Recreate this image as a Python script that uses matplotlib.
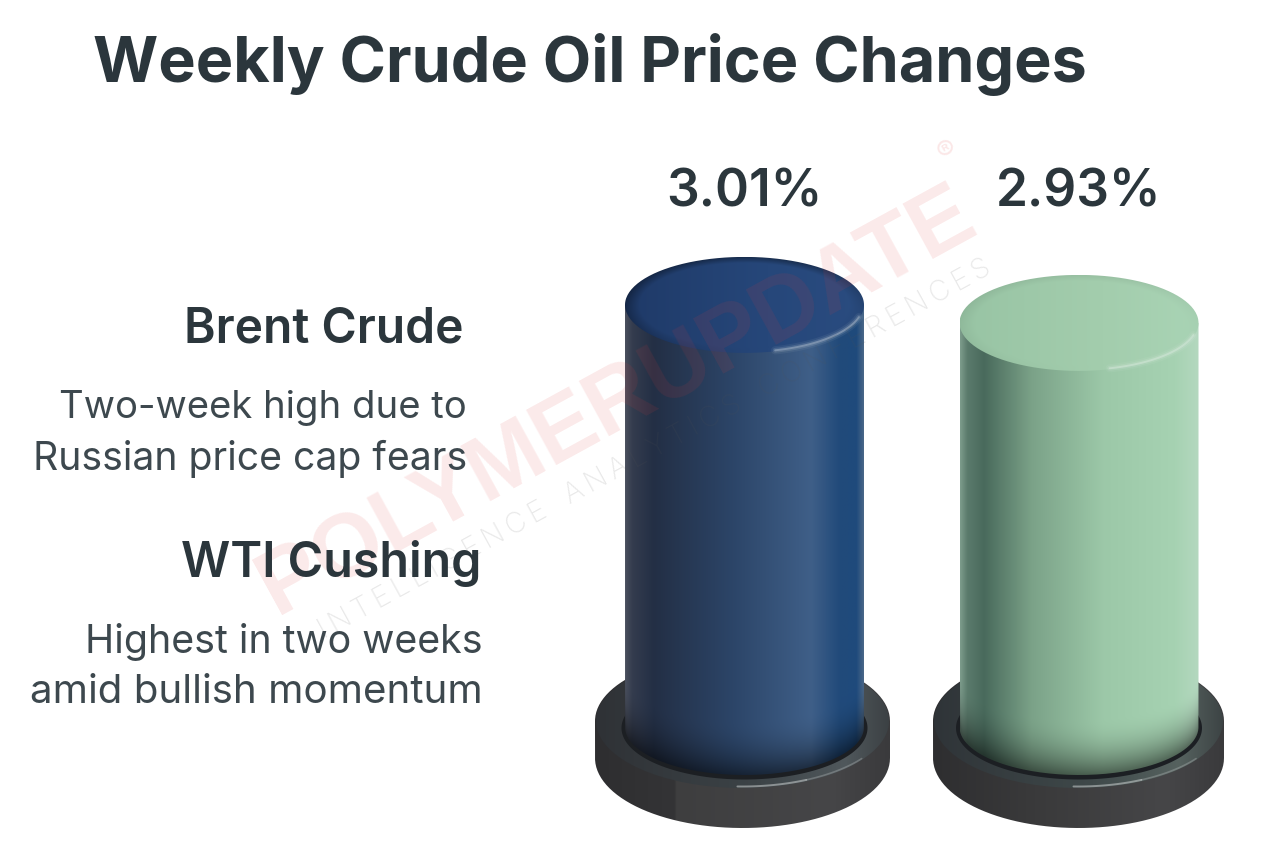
"""
Weekly crude oil price changes, drawn as two shaded cylinders on dark bases.
"""
import numpy as np
import matplotlib
matplotlib.use('Agg')
import matplotlib.pyplot as plt
from matplotlib.colors import to_rgb
from matplotlib.patches import PathPatch
from matplotlib.path import Path

W, H = 1264, 863

# data
categories = ['Brent Crude', 'WTI Cushing']
notes = [['Two-week high due to', 'Russian price cap fears'],
         ['Highest in two weeks', 'amid bullish momentum']]
changes = [3.01, 2.93]
labels = ['3.01%', '2.93%']

TEXT = '#2b363c'
TEXT_LIGHT = '#3d484e'
FONT = ['Inter', 'Roboto', 'DejaVu Sans']

# value axis is cut, as in the source: 225 px per point, base of the bars at 1.134
PX_PER_PCT = 225.0
PX_PER_CAT = 334.5
Y_BASE_PX = 727
Y_BASE_VAL = 1.134
CAT0_PX = 744.5

# horizontal shading (position across the bar, colour)
BLUE_STOPS = [(0, '#4a505e'), (0.03, '#343c4e'), (0.12, '#232f45'), (0.45, '#2c4568'),
              (0.78, '#3f5f88'), (0.9, '#214a7a'), (0.97, '#1f4a7c'), (1, '#4a6788')]
GREEN_STOPS = [(0, '#7d9c8c'), (0.03, '#5b7b6c'), (0.1, '#496a5c'), (0.3, '#7ba288'),
               (0.6, '#9cc8a8'), (0.9, '#a6d2b2'), (1, '#b4d8bf')]
BASE_BLUE = [(0, '#2e2e30'), (0.27, '#343436'), (0.275, '#3e3e3f'), (0.8, '#464648'), (1, '#3a3a3c')]
BASE_GREEN = [(0, '#2e2e30'), (0.35, '#3a3a3b'), (0.8, '#464648'), (1, '#3a3a3c')]


def ramp(stops, n=400):
    pos = [s[0] for s in stops]
    cols = np.array([to_rgb(s[1]) for s in stops])
    x = np.linspace(0, 1, n)
    return np.stack([np.interp(x, pos, cols[:, i]) for i in range(3)], axis=1)


def can_path(cx, rx, ytop, ybot, ry_top, ry_bot):
    """Outline: upper half of a top ellipse, lower half of a bottom ellipse."""
    t = np.linspace(0, np.pi, 120)
    xs = np.r_[cx + rx * np.cos(t), cx - rx * np.cos(t)]
    ys = np.r_[ytop + ry_top * np.sin(t), ybot - ry_bot * np.sin(t)]
    return Path(np.c_[xs, ys], closed=False)


def ellipse_path(cx, cy, rx, ry):
    t = np.linspace(0, 2 * np.pi, 200)
    return Path(np.c_[cx + rx * np.cos(t), cy + ry * np.sin(t)])


def shaded(ax, path, stops, zorder, foot=None, rim=0.0):
    """Fill a path with a left-to-right ramp.

    foot = (cx, yb, rx, ry, fade): darken towards the curved foot of the bar.
    rim: darken towards the edge of an elliptical lid.
    """
    (x0, y0), (x1, y1) = path.get_extents().get_points()
    img = ramp(stops)[None, :, :].repeat(300, axis=0)
    xx, yy = np.meshgrid(np.linspace(x0, x1, 400), np.linspace(y1, y0, 300))
    if foot is not None:
        cx, yb, rx, ry, fade = foot
        edge = yb - ry * np.sqrt(np.clip(1 - ((xx - cx) / rx) ** 2, 0, 1))
        d = np.clip(1 - (yy - edge) * PX_PER_PCT / 55, 0, 1)
        img = img * (1 - fade * d[:, :, None] ** 2)
    if rim:
        u = (xx - (x0 + x1) / 2) / ((x1 - x0) / 2)
        v = (yy - (y0 + y1) / 2) / ((y1 - y0) / 2)
        r = np.sqrt(u ** 2 + v ** 2)
        # only the far (upper left) rim falls off
        side = np.clip(0.6 + 0.6 * v - 0.3 * u, 0, 1)
        img = img * (1 - rim * (side * np.clip((r - 0.88) / 0.12, 0, 1))[:, :, None])
    im = ax.imshow(img, extent=(x0, x1, y0, y1), origin='upper', aspect='auto', zorder=zorder,
                   interpolation='bilinear')
    patch = PathPatch(path, transform=ax.transData, fc='none', ec='none')
    ax.add_patch(patch)
    im.set_clip_path(patch)


def arc(ax, cx, cy, rx, ry, a0, a1, **kw):
    t = np.radians(np.linspace(a0, a1, 80))
    ax.plot(cx + rx * np.cos(t), cy + ry * np.sin(t), solid_capstyle='round', **kw)


def draw_bar(ax, i, value, stops, top_cols, face, base_stops, rim, rx_base_px, dx_base):
    sx, sy = 1 / PX_PER_CAT, 1 / PX_PER_PCT
    cx = i
    rx = 119.5 * sx
    ry = 48 * sy
    yb = Y_BASE_VAL

    # base puck, built around the foot of the bar
    bx = cx + dx_base * sx
    brx = rx_base_px * sx
    top_y = yb + 6 * sy
    bot_y = yb - 31 * sy
    shaded(ax, can_path(bx, brx, top_y, bot_y, 68 * sy, 70 * sy), base_stops, 2)
    shaded(ax, ellipse_path(bx, top_y, brx - 1 * sx, 67 * sy), face, 3)
    arc(ax, bx, top_y, brx - 2 * sx, 65.5 * sy, 268, 296, color='#d8dcdc', lw=1.4, alpha=0.5, zorder=4)
    arc(ax, bx, top_y, brx - 2 * sx, 65.5 * sy, 296, 325, color='#c8cccc', lw=1.2, alpha=0.3, zorder=4)
    ax.add_patch(PathPatch(ellipse_path(cx, yb - 1 * sy, rx + 3.5 * sx, ry + 3.5 * sy),
                           fc='#1c1f23', ec='none', zorder=4))

    # body and lid
    shaded(ax, can_path(cx, rx, value, yb, 0, ry), stops, 5, foot=(cx, yb, rx, ry, 0.5))
    shaded(ax, ellipse_path(cx, value, rx, ry), top_cols, 6, rim=rim)
    for lw, alpha in [(6, 0.06), (3.5, 0.12), (1.4, 0.3)]:
        arc(ax, cx, value, rx - 1 * sx, ry - 1 * sy, 285, 345, color='#eef4f2', lw=lw, alpha=alpha, zorder=7)


def main():
    plt.rcParams['font.family'] = FONT
    fig = plt.figure(figsize=(W / 100, H / 100), dpi=100, facecolor='white')

    ax = fig.add_axes([0, 0, 1, 1], zorder=1)
    draw_bar(ax, 0, changes[0], BLUE_STOPS, [(0, '#1f3a68'), (0.6, '#26477a'), (1, '#2a4c80')],
             [(0, '#2f3236'), (0.55, '#3c4347'), (0.85, '#50585c'), (1, '#3c4144')],
             BASE_BLUE, 0.35, 147.5, -2)
    draw_bar(ax, 1, changes[1], GREEN_STOPS, [(0, '#98c4a4'), (0.6, '#a3cdad'), (1, '#a9d4b5')],
             [(0, '#2f3438'), (0.55, '#3f494a'), (0.85, '#56625f'), (1, '#3d4445')],
             BASE_GREEN, 0.06, 145.5, -0.5)
    ax.set_xlim(-CAT0_PX / PX_PER_CAT, (W - CAT0_PX) / PX_PER_CAT)
    ax.set_ylim(Y_BASE_VAL - (H - Y_BASE_PX) / PX_PER_PCT, Y_BASE_VAL + Y_BASE_PX / PX_PER_PCT)
    ax.axis('off')

    # overlay in pixel coordinates for the text and watermark
    top = fig.add_axes([0, 0, 1, 1], zorder=2, facecolor='none')
    top.set_xlim(0, W)
    top.set_ylim(H, 0)
    top.axis('off')

    top.text(617, 402, 'POLYMERUPDATE', rotation=28.7, rotation_mode='anchor', ha='center', va='center',
             fontsize=65, fontweight='bold', family='Liberation Sans', color='#e23b3b', alpha=0.11)
    top.text(948, 152, '®', rotation=28.7, ha='center', va='center', fontsize=20, color='#e23b3b', alpha=0.12)
    sub = '\u2009'.join('INTELLIGENCE') + '   ' + '\u2009'.join('ANALYTICS') + '   ' + '\u2009'.join('CONFERENCES')
    top.text(655, 449, sub, rotation=28.7, rotation_mode='anchor',
             ha='center', va='center', fontsize=20.5, color='#555555', alpha=0.13, fontweight='light')

    top.text(589.5, 64, 'Weekly Crude Oil Price Changes', ha='center', va='center',
             fontsize=45.3, fontweight='bold', color=TEXT)

    for i, lab in enumerate(labels):
        px = [744.5, 1079][i]
        top.text(px, 193, lab, ha='center', va='center', fontsize=37, fontweight='semibold', color=TEXT)

    top.text(464, 329, categories[0], ha='right', va='center', fontsize=34.5, fontweight='semibold', color=TEXT)
    top.text(467, 408, notes[0][0], ha='right', va='center', fontsize=27.5, color=TEXT_LIGHT)
    top.text(467, 459, notes[0][1], ha='right', va='center', fontsize=28.2, color=TEXT_LIGHT)
    top.text(481, 563, categories[1], ha='right', va='center', fontsize=34.8, fontweight='semibold', color=TEXT)
    top.text(483, 642, notes[1][0], ha='right', va='center', fontsize=28.3, color=TEXT_LIGHT)
    top.text(483, 692, notes[1][1], ha='right', va='center', fontsize=29, color=TEXT_LIGHT)

    fig.savefig('out.png', dpi=100)
    plt.close(fig)


if __name__ == '__main__':
    main()
